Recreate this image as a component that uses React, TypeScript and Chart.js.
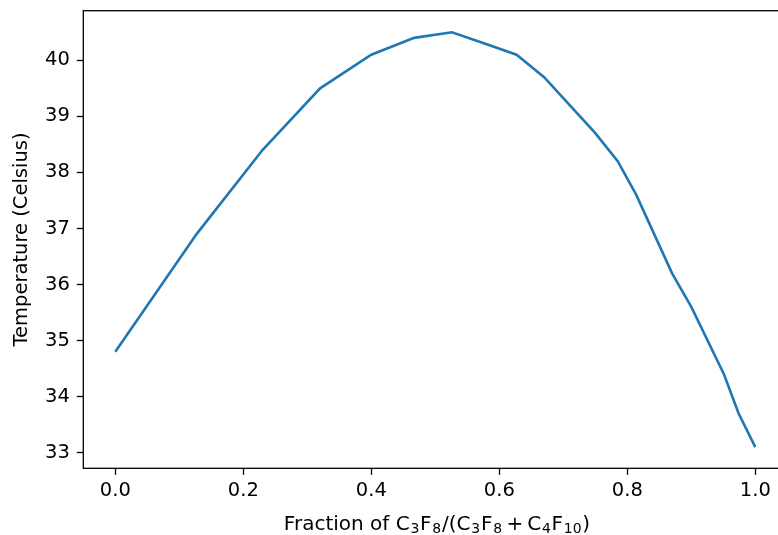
import { useEffect, useRef } from "react";
import { Chart, registerables } from "chart.js";

Chart.register(...registerables);

const fraction = [0, 0.127, 0.23, 0.32, 0.4, 0.467, 0.526, 0.577, 0.627, 0.67, 0.71, 0.75, 0.785, 0.814, 0.87, 0.9, 0.951, 0.974, 1.0];
const temperature = [34.8, 36.9, 38.4, 39.5, 40.1, 40.4, 40.5, 40.3, 40.1, 39.7, 39.2, 38.7, 38.2, 37.6, 36.2, 35.6, 34.4, 33.7, 33.1];
const xTicks = [0, 0.2, 0.4, 0.6, 0.8, 1.0];
const yTicks = [33, 34, 35, 36, 37, 38, 39, 40];
// x-axis label pieces: [text, kind] where kind: "n" normal, "s" subscript, "op" spaced operator
const xLabelParts: [string, string][] = [
  ["Fraction of C", "n"],
  ["3", "s"],
  ["F", "n"],
  ["8", "s"],
  ["/(C", "n"],
  ["3", "s"],
  ["F", "n"],
  ["8", "s"],
  ["+", "op"],
  ["C", "n"],
  ["4", "s"],
  ["F", "n"],
  ["10", "s"],
  [")", "n"],
];
const yLabel = "Temperature (Celsius)";

const FONT_FAMILY = "'DejaVu Sans', sans-serif";
const FONT_SIZE = 19.5;
const LABEL_SIZE = 20;

export default function App() {
  const ref = useRef<HTMLCanvasElement>(null);
  useEffect(() => {
    if (!ref.current) return;
    const font = { family: FONT_FAMILY, size: FONT_SIZE };
    const frame = {
      id: "frame",
      afterDraw(chart: any) {
        const { ctx, chartArea: a } = chart;
        ctx.save();
        ctx.strokeStyle = "#000";
        ctx.lineWidth = 1.3;
        ctx.strokeRect(a.left, a.top, a.right - a.left, a.bottom - a.top);
        // x-axis title with subscripts (mathtext-like)
        const subSize = LABEL_SIZE * 0.7;
        const normalFont = `${LABEL_SIZE}px ${FONT_FAMILY}`;
        const subFont = `${subSize}px ${FONT_FAMILY}`;
        const opSpace = LABEL_SIZE * 0.19;
        const subExtra = 1.5;
        const widths = xLabelParts.map(([t, k]) => {
          ctx.font = k === "s" ? subFont : normalFont;
          const w = ctx.measureText(t).width;
          if (k === "s") return w + subExtra;
          if (k === "op") return w + 2 * opSpace;
          return w;
        });
        const total = widths.reduce((s, w) => s + w, 0);
        let x = 437 - total / 2;
        const baseline = 529.5;
        ctx.fillStyle = "#000";
        ctx.textAlign = "left";
        ctx.textBaseline = "alphabetic";
        xLabelParts.forEach(([t, k], i) => {
          ctx.font = k === "s" ? subFont : normalFont;
          if (k === "s") ctx.fillText(t, x + 0.8, baseline + 3.5);
          else if (k === "op") ctx.fillText(t, x + opSpace, baseline);
          else ctx.fillText(t, x, baseline);
          x += widths[i];
        });
        ctx.restore();
      },
    };
    const grid = {
      drawOnChartArea: false,
      drawTicks: true,
      tickLength: 6.5,
      tickColor: "#000",
      tickWidth: 1.3,
    };
    const chart = new Chart(ref.current, {
      type: "line",
      data: {
        datasets: [
          {
            data: fraction.map((x, i) => ({ x, y: temperature[i] })),
            borderColor: "#1f77b4",
            borderWidth: 2.6,
            pointRadius: 0,
            fill: false,
            tension: 0,
          },
        ],
      },
      options: {
        animation: false,
        responsive: false,
        devicePixelRatio: 1,
        layout: { padding: { left: 0, top: 10.7, right: 12.7, bottom: 0 } },
        plugins: { legend: { display: false }, tooltip: { enabled: false } },
        scales: {
          x: {
            type: "linear",
            min: -0.05,
            max: 1.05,
            afterBuildTicks: (s: any) => {
              s.ticks = xTicks.map((v) => ({ value: v }));
            },
            afterFit: (s: any) => {
              s.height = 66.7;
              s.paddingLeft = 0;
              s.paddingRight = 0;
            },
            ticks: {
              callback: (v: any) => Number(v).toFixed(1),
              color: "#000",
              font,
              padding: 4,
              maxRotation: 0,
              autoSkip: false,
            },
            grid,
            border: { display: false },
          },
          y: {
            type: "linear",
            min: 32.722,
            max: 40.885,
            afterBuildTicks: (s: any) => {
              s.ticks = yTicks.map((v) => ({ value: v }));
            },
            afterFit: (s: any) => {
              s.width = 83.3;
              s.paddingTop = 0;
              s.paddingBottom = 0;
            },
            ticks: {
              callback: (v: any) => String(v),
              color: "#000",
              font,
              padding: 7,
              autoSkip: false,
            },
            grid,
            border: { display: false },
            title: {
              display: true,
              text: yLabel,
              color: "#000",
              font,
              padding: { top: 10.3, bottom: 0 },
            },
          },
        },
      },
      plugins: [frame],
    });
    return () => chart.destroy();
  }, []);
  return (
    <div
      style={{
        position: "fixed",
        left: 0,
        top: 0,
        width: 778,
        height: 535,
        overflow: "hidden",
        background: "#fff",
      }}
    >
      <canvas ref={ref} width={800} height={535} style={{ display: "block" }} />
    </div>
  );
}
